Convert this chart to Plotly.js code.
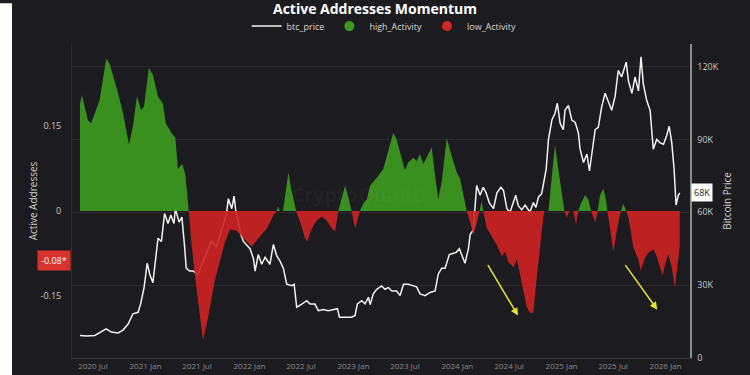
<!DOCTYPE html>
<html>
<head>
<meta charset="utf-8">
<script src="https://cdn.plot.ly/plotly-3.0.1.min.js"></script>
<style>
  html, body { margin: 0; padding: 0; background: #1c1c20; }
  #chart { width: 750px; height: 375px; }
</style>
</head>
<body>
<div id="chart"></div>
<script>
// ---- Active addresses momentum (signed) ----
const actDates = [
  "2020-05-16","2020-05-23","2020-06-13","2020-06-24","2020-07-24","2020-08-16","2020-08-28","2020-09-27","2020-10-14","2020-11-04",
  "2020-11-18","2020-12-02","2020-12-17","2020-12-27","2021-01-13","2021-01-27","2021-02-14","2021-03-03","2021-03-13","2021-04-02",
  "2021-04-16","2021-04-25","2021-05-10","2021-05-21","2021-06-02","2021-06-10","2021-06-23","2021-07-22","2021-08-09","2021-09-01",
  "2021-09-20","2021-10-07","2021-10-25","2021-11-17","2021-12-22","2022-01-09","2022-01-27","2022-02-13","2022-03-03","2022-03-14",
  "2022-03-26","2022-04-07","2022-04-11","2022-04-18","2022-04-29","2022-05-18","2022-05-27","2022-06-14","2022-06-21","2022-06-28",
  "2022-07-15","2022-07-23","2022-08-08","2022-08-25","2022-09-12","2022-09-29","2022-10-17","2022-10-29","2022-11-09","2022-12-03",
  "2022-12-26","2023-01-07","2023-01-24","2023-02-05","2023-02-17","2023-03-01","2023-03-12","2023-03-30","2023-04-16","2023-05-04",
  "2023-05-21","2023-06-02","2023-06-20","2023-07-01","2023-07-13","2023-07-31","2023-08-11","2023-08-23","2023-09-04","2023-09-16",
  "2023-10-03","2023-10-15","2023-10-26","2023-11-07","2023-11-25","2023-12-12","2023-12-30","2024-01-11","2024-01-22","2024-02-03",
  "2024-02-15","2024-02-26","2024-03-10","2024-03-19","2024-03-26","2024-04-01","2024-04-13","2024-05-01","2024-05-18","2024-06-05",
  "2024-06-17","2024-06-28","2024-07-16","2024-07-28","2024-08-08","2024-08-20","2024-09-01","2024-09-12","2024-09-24","2024-09-30",
  "2024-10-12","2024-10-23","2024-11-01","2024-11-16","2024-11-28","2024-12-09","2024-12-21","2025-01-02","2025-01-11","2025-01-19",
  "2025-01-28","2025-02-11","2025-02-21","2025-03-01","2025-03-07","2025-03-25","2025-04-05","2025-04-15","2025-04-29","2025-05-08",
  "2025-05-16","2025-05-28","2025-06-06","2025-06-11","2025-06-20","2025-07-02","2025-07-14","2025-07-26","2025-07-28","2025-08-06",
  "2025-08-16","2025-08-24","2025-09-10","2025-09-28","2025-10-06","2025-10-21","2025-11-02","2025-11-19","2025-12-01","2025-12-13",
  "2025-12-22","2025-12-31","2026-01-11","2026-01-23","2026-02-03","2026-02-11","2026-02-20"
];
const actValues = [
  0.19,0.205,0.16,0.155,0.196,0.269,0.26,0.208,0.173,0.117,
  0.15,0.202,0.178,0.185,0.253,0.24,0.202,0.19,0.155,0.138,
  0.129,0.074,0.083,0.065,0,-0.05,-0.112,-0.228,-0.188,-0.124,
  -0.09,-0.055,-0.033,-0.035,-0.054,-0.063,-0.052,-0.042,-0.031,-0.02,
  -0.008,0,0.008,0,0,0.068,0.04,0,-0.01,-0.019,
  -0.048,-0.054,-0.031,-0.017,-0.01,-0.017,-0.031,-0.036,0,0.045,
  0,-0.031,0,0.013,0.02,0.045,0.051,0.062,0.074,0.109,
  0.138,0.126,0.091,0.072,0.086,0.094,0.088,0.1,0.083,0.094,
  0.112,0.062,0.021,0.051,0.129,0.097,0.068,0.056,0.028,0,
  -0.02,-0.042,-0.02,0,0.017,0,-0.03,-0.045,-0.06,-0.08,
  -0.072,-0.09,-0.1,-0.085,-0.112,-0.147,-0.17,-0.18,-0.18,-0.147,
  -0.083,-0.037,0,0,0.062,0.117,0.072,0.035,0,-0.012,
  0,0,-0.024,0,0.01,0.028,0.02,0,-0.021,0,
  0.028,0.039,0.02,0,-0.03,-0.072,-0.035,-0.008,0,0.012,
  0,-0.012,-0.064,-0.087,-0.106,-0.083,-0.074,-0.068,-0.08,-0.1,
  -0.114,-0.094,-0.077,-0.1,-0.136,-0.1,-0.064
];

// ---- BTC price (thousands USD) ----
const btcDates = [
  "2020-05-16","2020-06-09","2020-07-07","2020-07-30","2020-08-16","2020-09-03","2020-09-27","2020-10-14","2020-11-01","2020-11-18",
  "2020-12-06","2020-12-15","2020-12-27","2021-01-07","2021-01-16","2021-01-27","2021-02-04","2021-02-14","2021-02-26","2021-03-09",
  "2021-03-21","2021-03-31","2021-04-11","2021-04-16","2021-04-29","2021-05-09","2021-05-19","2021-05-24","2021-06-05","2021-06-17",
  "2021-07-04","2021-07-28","2021-08-20","2021-09-07","2021-09-24","2021-10-12","2021-10-19","2021-10-31","2021-11-08","2021-11-15",
  "2021-11-23","2021-12-02","2021-12-11","2021-12-22","2022-01-03","2022-01-15","2022-01-21","2022-02-01","2022-02-13","2022-02-25",
  "2022-03-14","2022-03-26","2022-04-07","2022-04-18","2022-04-30","2022-05-12","2022-05-30","2022-06-07","2022-06-16","2022-07-04",
  "2022-07-21","2022-08-02","2022-08-19","2022-08-31","2022-09-18","2022-10-05","2022-10-23","2022-11-06","2022-11-13","2022-12-03",
  "2022-12-26","2023-01-07","2023-01-15","2023-01-30","2023-02-11","2023-02-23","2023-03-01","2023-03-12","2023-03-24","2023-04-10",
  "2023-04-22","2023-05-04","2023-05-16","2023-06-02","2023-06-14","2023-06-26","2023-07-13","2023-07-31","2023-08-11","2023-08-23",
  "2023-09-10","2023-09-27","2023-10-15","2023-10-26","2023-11-07","2023-11-19","2023-12-04","2023-12-16","2023-12-28","2024-01-08",
  "2024-01-17","2024-01-28","2024-02-09","2024-02-15","2024-02-26","2024-03-09","2024-03-21","2024-04-01","2024-04-11","2024-04-22",
  "2024-05-07","2024-05-19","2024-06-02","2024-06-11","2024-06-23","2024-07-04","2024-07-24","2024-08-02","2024-08-14","2024-08-26",
  "2024-09-12","2024-09-24","2024-10-03","2024-10-12","2024-10-23","2024-10-29","2024-11-08","2024-11-16","2024-11-28","2024-12-09",
  "2024-12-17","2024-12-27","2025-01-07","2025-01-13","2025-01-25","2025-02-06","2025-02-18","2025-03-01","2025-03-07","2025-03-19",
  "2025-03-31","2025-04-09","2025-04-17","2025-04-29","2025-05-10","2025-05-22","2025-06-03","2025-06-14","2025-06-26","2025-07-08",
  "2025-07-19","2025-07-31","2025-08-16","2025-08-24","2025-09-05","2025-09-16","2025-09-28","2025-10-07","2025-10-15","2025-10-27",
  "2025-11-08","2025-11-19","2025-12-01","2025-12-13","2025-12-25","2026-01-05","2026-01-14","2026-01-23","2026-01-31","2026-02-07",
  "2026-02-15","2026-02-20"
];
const btcPrice = [
  9.3,9.1,9.3,10.7,12,10.7,10.3,11.5,14,18.2,
  18.8,22.3,29,39,34.5,31,39.8,49.3,48,59.5,
  55.4,58.9,55.4,61.5,56,58,45,37,35.8,35.8,
  34.5,41,48,46,52,59,65.6,61.5,66.7,60,
  56,50.8,48,46.7,45,41,35.8,42.6,38.6,41.5,
  38.6,46.7,42,40,37,30.4,29.8,30.4,20.9,22.2,
  23.6,22.2,22.2,19.5,20,19.5,20,20.3,16.8,16.8,
  16.8,17.5,22.3,23.6,22.3,25,22,26.4,28.3,29.7,
  28.3,29,27.6,27.6,25.7,30.4,30.4,29.7,29.3,26.4,
  25.7,27,27.6,34.5,37,37,42.6,43,43.5,45,
  42.6,39,45,50.8,52.7,71,67,70.3,68,64,
  61.5,68,70.3,69,61.5,60,67,62.7,61,63,
  60,64,62,66.3,67.6,71,77.8,90,98,100.8,
  104.9,96.7,94,102,104,98,97,92.7,86,80.5,
  84,77,83.3,94,95,103.5,109,106,102,107.7,
  118.4,115.8,121.8,114,109,115.7,110,124,113,106,
  102,86,90,88.6,88,91.5,95.4,88.6,78,63,
  67,68
];

// ---- axis ticks ----
const priceTickVals = [0, 30, 60, 90, 120];
const priceTickText = ["0", "30K", "60K", "90K", "120K"];
const actTickVals = [-0.15, 0, 0.15];
const actTickText = ["-0.15", "0", "0.15"];

const highValues = actValues.map(v => (v > 0 ? v : 0));
const lowValues = actValues.map(v => (v < 0 ? v : 0));

const GREEN = "rgba(60,152,30,0.94)";
const RED = "rgba(208,34,34,0.9)";
const FONT = "Open Sans, Noto Sans, sans-serif";

const traces = [
  {
    name: "btc_price", x: btcDates, y: btcPrice, type: "scatter", mode: "lines",
    line: { color: "#f2f2f2", width: 1.5 }, yaxis: "y", xaxis: "x", hoverinfo: "skip"
  },
  {
    name: "high_Activity", x: [null], y: [null], type: "scatter", mode: "markers",
    marker: { color: "#3c9a22", size: 10, symbol: "circle" }, yaxis: "y2"
  },
  {
    name: "low_Activity", x: [null], y: [null], type: "scatter", mode: "markers",
    marker: { color: "#cf2626", size: 10, symbol: "circle" }, yaxis: "y2"
  },
  {
    name: "high_Activity", x: actDates, y: highValues, type: "scatter", mode: "lines",
    fill: "tozeroy", fillcolor: GREEN, line: { width: 0, color: GREEN },
    yaxis: "y2", showlegend: false, hoverinfo: "skip"
  },
  {
    name: "low_Activity", x: actDates, y: lowValues, type: "scatter", mode: "lines",
    fill: "tozeroy", fillcolor: RED, line: { width: 0, color: RED },
    yaxis: "y2", showlegend: false, hoverinfo: "skip"
  }
];

const layout = {
  width: 750, height: 375,
  paper_bgcolor: "#1c1c20", plot_bgcolor: "#1c1c20",
  margin: { l: 72, r: 60, t: 40, b: 17 },
  font: { family: FONT, color: "#c8c8c8", size: 10 },
  title: {
    text: "<b>Active Addresses Momentum</b>",
    font: { family: FONT, size: 14, color: "#ffffff" },
    x: 0.5, xanchor: "center", y: 0.988, yanchor: "top"
  },
  showlegend: true,
  legend: {
    orientation: "h", x: 0.505, xanchor: "center", y: 1.057, yanchor: "middle",
    font: { family: FONT, size: 9, color: "#d8d8d8" },
    bgcolor: "rgba(0,0,0,0)", itemwidth: 30, traceorder: "normal"
  },
  xaxis: {
    type: "date", range: ["2020-04-18", "2026-03-28"],
    tick0: "2020-07-01", dtick: "M6", tickformat: "%Y %b",
    tickfont: { family: FONT, size: 8, color: "#8a8a8a" },
    showgrid: false, zeroline: false,
    showline: true, linecolor: "#3a3a3e", linewidth: 1,
    ticks: "", fixedrange: true
  },
  yaxis: {
    side: "right", range: [0, 129.3],
    tickvals: priceTickVals, ticktext: priceTickText,
    tickfont: { family: FONT, size: 9, color: "#c8c8c8" },
    showgrid: true, gridcolor: "#29292e", gridwidth: 1,
    zeroline: false, showline: true, linecolor: "#8c8c8c", linewidth: 1.5,
    ticks: "outside", ticklen: 4, tickcolor: "rgba(0,0,0,0)",
    title: { text: "Bitcoin Price", font: { family: FONT, size: 10, color: "#d0d0d0" }, standoff: 6 }
  },
  yaxis2: {
    overlaying: "y", side: "left", range: [-0.26, 0.295],
    tickvals: actTickVals, ticktext: actTickText,
    tickfont: { family: FONT, size: 9, color: "#c8c8c8" },
    showgrid: false, zeroline: false,
    showline: true, linecolor: "#2e2e33", linewidth: 1,
    ticks: "outside", ticklen: 8, tickcolor: "rgba(0,0,0,0)",
    title: { text: "Active Addresses", font: { family: FONT, size: 10, color: "#d0d0d0" }, standoff: 0 }
  },
  shapes: [
    { type: "rect", xref: "paper", yref: "paper", x0: -0.1165, x1: -0.0971, y0: -0.06, y1: 1.13,
      fillcolor: "#ffffff", line: { width: 0 }, layer: "above" }
  ],
  annotations: [
    { xref: "paper", yref: "y", x: 1.002, y: 68, xanchor: "left", yanchor: "middle",
      text: "68K", showarrow: false, bgcolor: "#ffffff", borderpad: 2,
      font: { family: FONT, size: 9, color: "#222222" } },
    { xref: "paper", yref: "y2", x: -0.002, y: -0.087, xanchor: "right", yanchor: "middle",
      text: "-0.08*", showarrow: false, bgcolor: "#d7322c", borderpad: 3,
      font: { family: FONT, size: 9, color: "#ffffff" } },
    { xref: "x", yref: "y2", x: "2024-08-01", y: -0.185, ax: -31, ay: -52,
      showarrow: true, arrowcolor: "#e5e52e", arrowwidth: 1.5, arrowhead: 2, arrowsize: 1, text: "" },
    { xref: "x", yref: "y2", x: "2025-12-03", y: -0.1745, ax: -33, ay: -46,
      showarrow: true, arrowcolor: "#e5e52e", arrowwidth: 1.5, arrowhead: 2, arrowsize: 1, text: "" },
    { xref: "paper", yref: "paper", x: 0.46, y: 0.52, xanchor: "center", yanchor: "middle",
      text: "<b>CryptoQuant</b>", showarrow: false,
      font: { family: FONT, size: 20, color: "rgba(255,255,255,0.035)" } }
  ]
};

Plotly.newPlot("chart", traces, layout, { displayModeBar: false, staticPlot: true });
</script>
</body>
</html>
